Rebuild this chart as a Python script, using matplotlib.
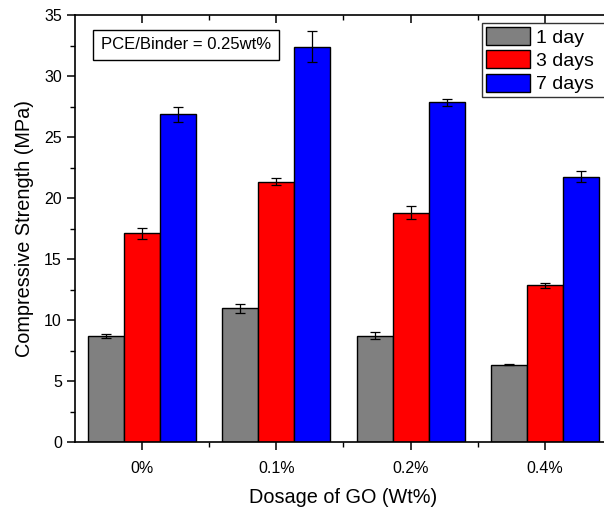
import numpy as np
import matplotlib
matplotlib.use("Agg")
import matplotlib.pyplot as plt
from matplotlib.ticker import MultipleLocator, FixedLocator

plt.rcParams['font.family'] = ['Liberation Sans', 'DejaVu Sans']

# GO dosage groups and compressive strength (MPa) at each curing age
dosages = ['0%', '0.1%', '0.2%', '0.4%']
ages = ['1 day', '3 days', '7 days']
strength_1d = [8.7, 10.95, 8.72, 6.35]
strength_3d = [17.1, 21.35, 18.8, 12.85]
strength_7d = [26.85, 32.4, 27.85, 21.75]
err_1d = [0.15, 0.37, 0.3, 0.03]
err_3d = [0.47, 0.27, 0.55, 0.22]
err_7d = [0.6, 1.25, 0.27, 0.45]
colors = ['#808080', '#ff0000', '#0000ff']

fig = plt.figure(figsize=(6.04, 5.07), dpi=100)
ax = fig.add_axes([0.1242, 0.1282, 0.889, 0.8422])

x = np.arange(len(dosages))
width = 0.268
series = [(strength_1d, err_1d), (strength_3d, err_3d), (strength_7d, err_7d)]
for i, (vals, errs) in enumerate(series):
    ax.bar(x + (i - 1) * width, vals, width, color=colors[i], edgecolor='black',
           linewidth=1.0, label=ages[i],
           yerr=errs, capsize=3.5, error_kw=dict(elinewidth=0.9, capthick=0.9, ecolor='black'))

ax.set_xlim(-0.5, 3.5)
ax.set_ylim(0, 35)
ax.set_xticks(x)
ax.set_xticklabels(dosages)
ax.xaxis.set_minor_locator(FixedLocator([0.5, 1.5, 2.5]))
ax.yaxis.set_major_locator(MultipleLocator(5))
ax.yaxis.set_minor_locator(MultipleLocator(2.5))
ax.tick_params(axis='both', which='major', labelsize=11.5, length=6, width=1.1, direction='out')
ax.tick_params(axis='both', which='minor', length=3.5, width=1.0, direction='out')
ax.tick_params(axis='x', which='both', top=True)
ax.tick_params(axis='x', which='major', pad=8)
# top ticks point into the plot
for t in ax.xaxis.get_major_ticks() + ax.xaxis.get_minor_ticks():
    t.tick2line.set_marker(3)
for spine in ax.spines.values():
    spine.set_linewidth(1.2)

ax.set_xlabel('Dosage of GO (Wt%)', fontsize=14.3, labelpad=8)
ax.set_ylabel('Compressive Strength (MPa)', fontsize=14.3, labelpad=7)

ax.text(0.2067, 0.93, 'PCE/Binder = 0.25wt%', transform=ax.transAxes, fontsize=12,
        ha='center', va='center',
        bbox=dict(boxstyle='square,pad=0.45', fc='white', ec='black', lw=1.0))

leg = ax.legend(loc='upper left', bbox_to_anchor=(0.758, 0.0, 0.25, 0.981), mode='expand',
                borderaxespad=0, fontsize=14, handlelength=2.27, handleheight=1.03,
                labelspacing=0.2, handletextpad=0.3, borderpad=0.2, fancybox=False,
                framealpha=1)
leg.get_frame().set_edgecolor('#333333')
leg.get_frame().set_linewidth(1.0)

fig.savefig('out.png', dpi=100)
